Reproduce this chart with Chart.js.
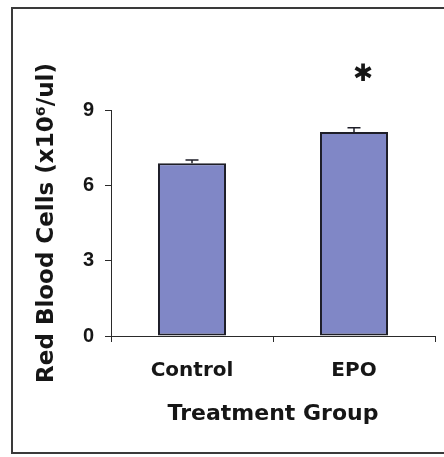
<!DOCTYPE html>
<html>
<head>
<meta charset="utf-8">
<script src="https://cdn.jsdelivr.net/npm/chart.js@4/dist/chart.umd.min.js"></script>
<style>
html,body{margin:0;padding:0;background:#fff;overflow:hidden;}
#wrap{width:444px;height:457px;position:relative;}
</style>
</head>
<body>
<div id="wrap"><canvas id="c" width="444" height="457"></canvas></div>
<script>
// ---- data ----
const categories = ['Control', 'EPO'];
const meanValues = [6.88, 8.12];
const errorValues = [0.13, 0.17];
const significance = ['', '\u2731'];
const yTicks = [0, 3, 6, 9];
const yTitle = 'Red Blood Cells (x10\u2076/ul)';
const xTitle = 'Treatment Group';

const barFill = '#8087c6';
const barEdge = '#1e1e28';
const axisColor = '#2a2a2a';
const textColor = '#161616';

const frame = {
  id: 'frame',
  beforeDraw(chart) {
    const ctx = chart.ctx;
    ctx.save();
    ctx.strokeStyle = '#3a3a3a';
    ctx.lineWidth = 2;
    ctx.beginPath();
    ctx.moveTo(444, 8);
    ctx.lineTo(12, 8);
    ctx.lineTo(12, 453);
    ctx.lineTo(444, 453);
    ctx.stroke();
    ctx.restore();
  }
};

const errorBars = {
  id: 'errorBars',
  afterDatasetsDraw(chart) {
    const ctx = chart.ctx;
    const xs = chart.scales.x, ys = chart.scales.y;
    ctx.save();
    ctx.strokeStyle = barEdge;
    ctx.lineWidth = 1.5;
    meanValues.forEach((v, i) => {
      const x = xs.getPixelForValue(i);
      const y0 = ys.getPixelForValue(v);
      const y1 = ys.getPixelForValue(v + errorValues[i]);
      ctx.beginPath();
      ctx.moveTo(x, y0);
      ctx.lineTo(x, y1);
      ctx.moveTo(x - 6.5, y1);
      ctx.lineTo(x + 6.5, y1);
      ctx.stroke();
      if (significance[i]) {
        ctx.fillStyle = textColor;
        ctx.font = '24px "DejaVu Sans", sans-serif';
        ctx.textAlign = 'center';
        ctx.textBaseline = 'middle';
        ctx.fillText(significance[i], x + 9, y1 - 53);
      }
    });
    ctx.restore();
  }
};

new Chart(document.getElementById('c'), {
  type: 'bar',
  data: {
    labels: categories,
    datasets: [{
      data: meanValues,
      backgroundColor: barFill,
      borderColor: barEdge,
      borderWidth: 2,
      borderSkipped: false,
      barPercentage: 0.42,
      categoryPercentage: 1.0
    }]
  },
  options: {
    responsive: false,
    animation: false,
    events: [],
    layout: { padding: { left: 12, top: 110, right: 9, bottom: 8 } },
    plugins: { legend: { display: false }, tooltip: { enabled: false } },
    scales: {
      x: {
        offset: true,
        grid: { offset: true, drawOnChartArea: false, drawTicks: true, tickLength: 6, color: axisColor, lineWidth: 1 },
        border: { color: axisColor, width: 1 },
        ticks: { color: textColor, padding: 17, font: { family: '"DejaVu Sans", sans-serif', weight: 'bold', size: 20 } },
        title: { display: true, text: xTitle, color: textColor, padding: { top: 4, bottom: 22 }, font: { family: '"DejaVu Sans", sans-serif', weight: 'bold', size: 22 } },
        afterFit(s) { s.height = 113; }
      },
      y: {
        min: 0, max: 9,
        afterBuildTicks(s) { s.ticks = yTicks.map(v => ({ value: v })); },
        grid: { drawOnChartArea: false, drawTicks: true, tickLength: 6, color: axisColor, lineWidth: 1 },
        border: { color: axisColor, width: 1 },
        ticks: { color: textColor, padding: 11, font: { family: '"Liberation Sans", Arial, sans-serif', weight: 'bold', size: 20 } },
        title: { display: true, text: yTitle, color: textColor, padding: { top: 21, bottom: 4 }, font: { family: '"DejaVu Sans", sans-serif', weight: 'bold', size: 23 } },
        afterFit(s) { s.width = 99; }
      }
    }
  },
  plugins: [frame, errorBars]
});
</script>
</body>
</html>
